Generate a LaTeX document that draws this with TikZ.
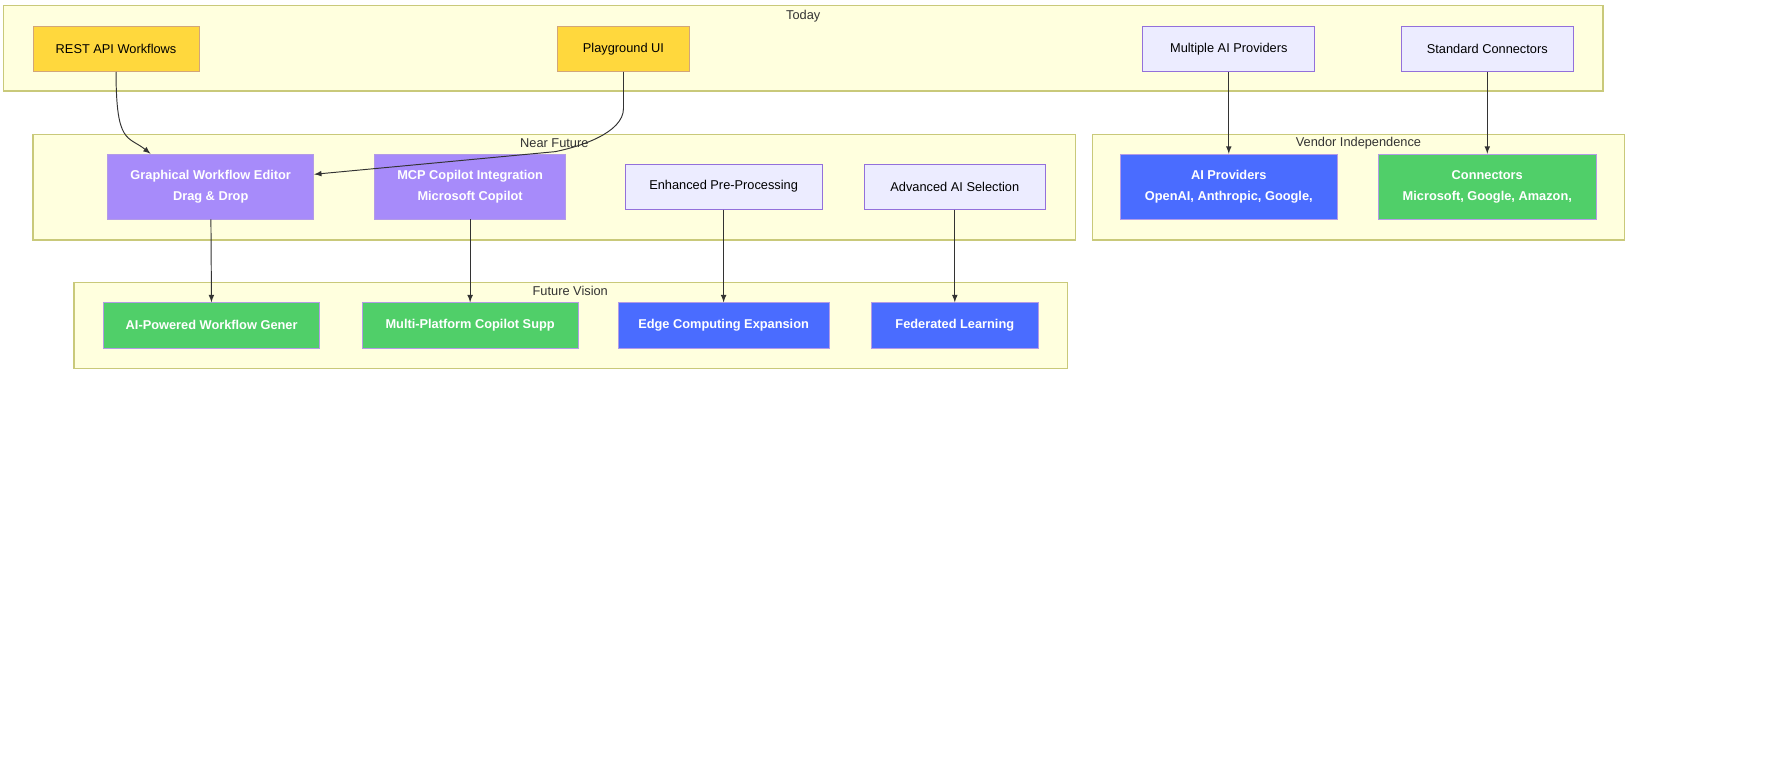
\documentclass[tikz,border=0pt]{standalone}
\usepackage{fontspec}
\setmainfont{Liberation Sans}
\usetikzlibrary{calc}
\definecolor{clfill}{HTML}{FFFFDE}
\definecolor{cldraw}{HTML}{C9C97A}
\definecolor{gold}{HTML}{FFD83D}
\definecolor{lav}{HTML}{ECECFF}
\definecolor{lavdraw}{HTML}{9370DB}
\definecolor{violet}{HTML}{A78BFA}
\definecolor{royal}{HTML}{4A6CFF}
\definecolor{leaf}{HTML}{50CF69}
\tikzstyle{cluster}=[rectangle, fill=clfill, draw=cldraw, line width=0.8pt]
\tikzstyle{box}=[rectangle, draw=lavdraw!70, font=\fontsize{8}{13}\selectfont, align=center, inner sep=0pt, minimum height=1cm]
\tikzstyle{today}=[box, fill=gold, draw=brown!70]
\tikzstyle{plain}=[box, fill=lav, draw=lavdraw]
\tikzstyle{purple}=[box, fill=violet, text=white, font=\fontsize{8}{13}\selectfont\bfseries]
\tikzstyle{blue}=[box, fill=royal, text=white, font=\fontsize{8}{13}\selectfont\bfseries]
\tikzstyle{green}=[box, fill=leaf, text=white, font=\fontsize{8}{13}\selectfont\bfseries]
\tikzstyle{arrow}=[-latex, draw=black!80, line width=0.6pt]
\tikzstyle{title}=[font=\fontsize{8}{10}\selectfont, text=black!80]
\begin{document}
\begin{tikzpicture}
            \useasboundingbox (0,0) rectangle (39.2,-16.8);
            % clusters
            \draw [style=cluster] (0.075,-0.125) rectangle (35.225,-2);
            \draw [style=cluster] (0.725,-2.95) rectangle (23.625,-5.275);
            \draw [style=cluster] (24,-2.95) rectangle (35.7,-5.275);
            \draw [style=cluster] (1.625,-6.2) rectangle (23.45,-8.1);
            \node [style=title] (tToday) at (17.65,-0.35) {Today};
            \node [style=title] (tNear) at (12.18,-3.15) {Near Future};
            \node [style=title] (tVendor) at (29.85,-3.15) {Vendor Independence};
            \node [style=title] (tVision) at (12.53,-6.4) {Future Vision};
            % nodes
            \node [style=today, minimum width=3.65cm] (rest) at (2.55,-1.075) {REST API Workflows};
            \node [style=today, minimum width=2.9cm] (play) at (13.7,-1.075) {Playground UI};
            \node [style=plain, minimum width=3.78cm] (multi) at (27,-1.075) {Multiple AI Providers};
            \node [style=plain, minimum width=3.8cm] (std) at (32.68,-1.075) {Standard Connectors};
            \node [style=purple, minimum width=4.53cm, minimum height=1.43cm] (graph) at (4.63,-4.1) {Graphical Workflow Editor\\Drag \& Drop};
            \node [style=purple, minimum width=4.2cm, minimum height=1.43cm] (mcp) at (10.33,-4.1) {MCP Copilot Integration\\Microsoft Copilot};
            \node [style=plain, minimum width=4.33cm] (pre) at (15.9,-4.1) {Enhanced Pre-Processing};
            \node [style=plain, minimum width=3.98cm] (sel) at (20.98,-4.1) {Advanced AI Selection};
            \node [style=blue, minimum width=4.75cm, minimum height=1.43cm] (prov) at (27,-4.1) {AI Providers\\OpenAI, Anthropic, Google,};
            \node [style=green, minimum width=4.78cm, minimum height=1.43cm] (conn) at (32.68,-4.1) {Connectors\\Microsoft, Google, Amazon,};
            \node [style=green, minimum width=4.75cm] (gen) at (4.65,-7.15) {AI-Powered Workflow Gener};
            \node [style=green, minimum width=4.75cm] (supp) at (10.33,-7.15) {Multi-Platform Copilot Supp};
            \node [style=blue, minimum width=4.63cm] (edge) at (15.9,-7.15) {Edge Computing Expansion};
            \node [style=blue, minimum width=3.68cm] (fed) at (20.98,-7.15) {Federated Learning};
            % edges
            \draw [style=arrow] (rest.south) .. controls +(0,-1.6) and +(-0.5,0.4) .. ($(graph.north west)+(0.95,0)$);
            \draw [style=arrow] (play.south) -- ++(0,-0.8) .. controls +(0,-0.55) and +(0.5,0.1) .. ($(play.south)+(-1.5,-1.75)$) -- ($(graph.east)+(0,0.27)$);
            \draw [style=arrow] (multi) -- (prov);
            \draw [style=arrow] (std) -- (conn);
            \draw [style=arrow] (graph) -- (gen);
            \draw [style=arrow] (mcp) -- (supp);
            \draw [style=arrow] (pre) -- (edge);
            \draw [style=arrow] (sel) -- (fed);
\end{tikzpicture}
\end{document}
